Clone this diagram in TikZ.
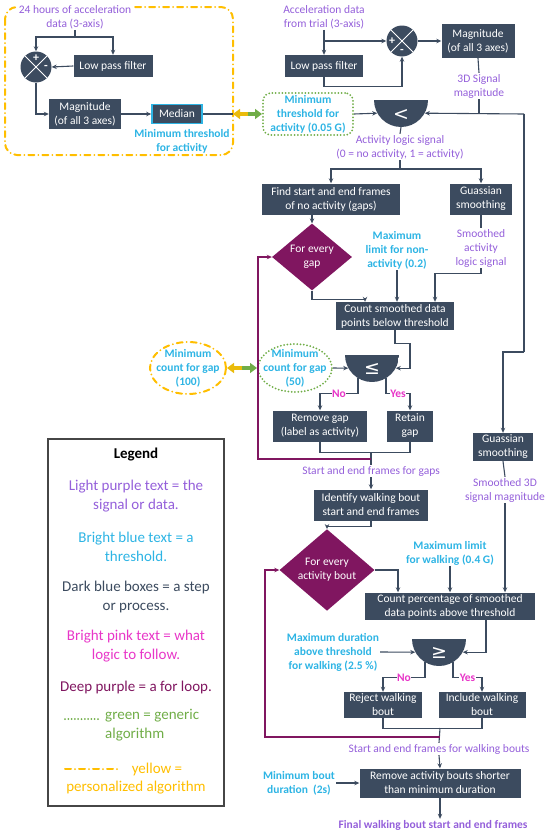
\documentclass[tikz,border=0pt]{standalone}
\usepackage{fontspec}
\setmainfont{Carlito}
\newfontfamily\symfont{DejaVu Sans}
\usetikzlibrary{arrows.meta,shapes.geometric}

\definecolor{stepblue}{RGB}{60,75,95}
\definecolor{looppurple}{RGB}{128,22,96}
\definecolor{datapurple}{RGB}{148,95,218}
\definecolor{thrblue}{RGB}{45,180,228}
\definecolor{logicpink}{RGB}{232,54,200}
\definecolor{gengreen}{RGB}{112,173,71}
\definecolor{persyellow}{RGB}{255,190,0}
\definecolor{legendgray}{RGB}{70,70,70}

\tikzset{
    stepbox/.style={fill=stepblue, text=white, align=center, inner sep=1pt},
    datatxt/.style={text=datapurple, align=center, inner sep=1pt},
    thrtxt/.style={text=thrblue, align=center, inner sep=1pt, font=\fontsize{11.5}{14}\selectfont\bfseries},
    logictxt/.style={text=logicpink, fill=white, inner sep=0.5pt, font=\fontsize{11.5}{14}\selectfont\bfseries},
    loopbox/.style={diamond, fill=looppurple, text=white, align=center, inner sep=0pt},
    cmp/.style={circle, minimum size=54pt, inner sep=0pt,
        path picture={\fill[stepblue] (path picture bounding box.west) rectangle (path picture bounding box.south east);}},
    cmpsym/.style={text=white, inner sep=0pt, font=\symfont\fontsize{19}{19}\selectfont},
    sumjn/.style={circle, fill=stepblue, minimum size=31pt, inner sep=0pt,
        path picture={\draw[white, line width=0.8pt]
            (path picture bounding box.north west) -- (path picture bounding box.south east)
            (path picture bounding box.south west) -- (path picture bounding box.north east);}},
    sumsign/.style={text=white, inner sep=0pt, font=\fontsize{12}{12}\selectfont\bfseries},
    wire/.style={draw=stepblue, line width=1.1pt},
    arr/.style={wire, -{Stealth[length=5pt,width=4.5pt]}},
    looparr/.style={draw=looppurple, line width=1.1pt, -{Stealth[length=5pt,width=4.5pt]}},
    generic/.style={draw=gengreen, line width=2pt, dash pattern=on 0pt off 3.3pt, line cap=round},
    personal/.style={draw=persyellow, line width=2pt, dash pattern=on 6pt off 4pt on 0pt off 4pt, line cap=round},
    halfyellow/.style={draw=persyellow!85!gengreen, line width=3.5pt, -{Triangle[length=7pt,width=10pt]}},
    halfgreen/.style={draw=gengreen, line width=3.5pt, -{Triangle[length=7pt,width=10pt]}},
    legendtxt/.style={align=center, inner sep=1pt, font=\fontsize{15}{19}\selectfont},
}

\begin{document}
\begin{tikzpicture}[x=1pt, y=-1pt, font=\fontsize{11.5}{14}\selectfont]
    \useasboundingbox (0,0) rectangle (550,835);

    \draw[personal, rounded corners=12pt] (5,7) rectangle (233,155);
    \node[datatxt, fill=white] (dataL) at (75,17) {24 hours of acceleration\\data (3-axis)};
    \coordinate (splitL) at (75,37);
    \node[sumjn] (sumL) at (36,67) {};
    \node[sumsign] (sumLp) at (36,58) {+};
    \node[sumsign] (sumLm) at (46,67) {-};
    \node[stepbox, minimum width=79, minimum height=22] (lpfL) at (113,66) {Low pass filter};
    \node[stepbox, minimum width=72, minimum height=30] (magL) at (85,114) {Magnitude\\(of all 3 axes)};
    \node[stepbox, draw=thrblue, line width=1.6pt, minimum width=50, minimum height=19] (medL) at (177,114) {Median};
    \node[thrtxt] (thrL) at (182,141) {Minimum threshold\\for activity};
    \coordinate (dblL) at (233,114);
    \coordinate (dblM) at (248,114);

    \draw[wire] (dataL.south) -- (splitL);
    \draw[arr] (splitL) -| (sumL.north);
    \draw[arr] (splitL) -| (lpfL.north);
    \draw[arr] (lpfL.west) -- (sumL.east);
    \draw[arr] (sumL.south) |- (magL.west);
    \draw[arr] (magL.east) -- (medL.west);
    \draw[wire] (medL.east) -- (dblL);

    \node[datatxt] (dataR) at (324,17) {Acceleration data\\from trial (3-axis)};
    \coordinate (splitR) at (324,41);
    \node[stepbox, minimum width=78, minimum height=22] (lpfR) at (324,66) {Low pass filter};
    \node[sumjn] (sumR) at (402,41) {};
    \node[sumsign] (sumRp) at (392,41) {+};
    \node[sumsign] (sumRm) at (402,51) {-};
    \node[stepbox, minimum width=73, minimum height=34] (magR) at (478,41) {Magnitude\\(of all 3 axes)};
    \node[datatxt] (sig3D) at (479,86) {3D Signal\\magnitude};
    \coordinate (jR) at (479,114);
    \coordinate (cornerR) at (524,114);
    \coordinate (bendR) at (524,352);

    \node[generic, thrtxt, rounded corners=8pt, minimum width=90, minimum height=42] (thrA) at (308,114) {Minimum\\threshold for\\activity (0.05 G)};
    \node[cmp] (cmpA) at (401,100) {};
    \node[cmpsym] (cmpAs) at (401,115) {<};
    \node[datatxt] (actSig) at (400,147) {Activity logic signal\\(0 = no activity, 1 = activity)};
    \coordinate (jA) at (400,169);

    \draw[halfyellow] (dblM) -- (dblL);
    \draw[halfgreen] (dblM) -- (thrA.west);
    \draw[wire] (dataR.south) -- (splitR);
    \draw[arr] (splitR) -- (lpfR.north);
    \draw[arr] (splitR) -- (sumR.west);
    \draw[arr] (lpfR.south) -- ++(0,9) -| (sumR.south);
    \draw[arr] (sumR.east) -- (magR.west);
    \draw[wire] (magR.south) -- (sig3D.north);
    \draw[wire] (sig3D.south) -- (jR);
    \draw[arr] (cornerR) -- (cmpA.-29);
    \draw[arr] (thrA.east) -- (cmpA.-151);
    \draw[wire] (cmpA.south) -- (actSig.north);
    \draw[wire] (actSig.south) -- (jA);

    \node[stepbox, minimum width=138, minimum height=31] (findG) at (331,199) {Find start and end frames\\of no activity (gaps)};
    \node[stepbox, minimum width=62, minimum height=31] (gauss1) at (481,199) {Guassian\\smoothing};
    \node[loopbox, minimum width=80, minimum height=51] (loopG) at (312,257) {For every\\gap};
    \node[thrtxt] (maxNon) at (397,250) {Maximum\\limit for non-\\activity (0.2)};
    \node[datatxt] (smAct) at (481,248) {Smoothed\\activity\\logic signal};
    \node[stepbox, minimum width=118, minimum height=28] (countG) at (395,316) {Count smoothed data\\points below threshold};

    \draw[arr] (jA) -| (findG.north);
    \draw[arr] (jA) -| (gauss1.north);
    \draw[arr] (loopG.north |- findG.south) -- (loopG.north);
    \draw[wire] (gauss1.south) -- (smAct.north);
    \draw[arr] (smAct.south) -- ++(0,5) -| ([xshift=40pt]countG.north);
    \draw[arr] (maxNon.south) -- (maxNon.south |- countG.north);
    \draw[arr] (loopG.south) -- ++(0,9) -| ([xshift=-30pt]countG.north);

    \node[cmp] (cmpG) at (372,355) {};
    \node[cmpsym] (cmpGs) at (372,369) {≤};
    \node[generic, ellipse, thrtxt, inner xsep=-6pt, inner ysep=-3pt, minimum width=74, minimum height=48] (cntGap) at (295,368) {Minimum\\count for gap\\(50)};
    \node[personal, ellipse, thrtxt, inner xsep=-6pt, inner ysep=-3pt, minimum width=76, minimum height=52] (cntGapP) at (188,368) {Minimum\\count for gap\\(100)};
    \coordinate (dblG) at (242,368);
    \node[stepbox, minimum width=94, minimum height=31] (remG) at (320,426) {Remove gap\\(label as activity)};
    \node[stepbox, minimum width=46, minimum height=31] (retG) at (410,426) {Retain\\gap};
    \coordinate (jG) at (371,453);
    \coordinate (backG) at (258,459);
    \node[datatxt] (gapTxt) at (371,471) {Start and end frames for gaps};

    \draw[arr] (countG.south) -- ++(0,13) -- ++(15,0) |- (cmpG.-29);
    \draw[arr] (cntGap.east) -- (cmpG.-151);
    \draw[halfyellow] (dblG) -- (cntGapP.east);
    \draw[halfgreen] (dblG) -- (cntGap.west);
    \draw[arr] (cmpG.-121) -- ++(0,15) -| (remG.north) node[logictxt, pos=0.25] (noG) {No};
    \draw[arr] (cmpG.-59) -- ++(0,15) -| (retG.north) node[logictxt, pos=0.25] (yesG) {Yes};
    \draw[wire] (remG.south) -- ++(0,11) -| (retG.south);
    \draw[wire] (jG) -- (gapTxt.north);
    \draw[looparr] (jG |- backG) -- (backG) |- (loopG.west);

    \node[stepbox, minimum width=114, minimum height=31] (identW) at (371,505) {Identify walking bout\\start and end frames};
    \node[loopbox, minimum width=95, minimum height=66] (loopW) at (327,570) {For every\\activity bout};
    \node[thrtxt] (maxWalk) at (450,553) {Maximum limit\\for walking (0.4 G)};
    \node[stepbox, minimum width=60, minimum height=28] (gauss2) at (503,447) {Guassian\\smoothing};
    \node[datatxt] (sm3D) at (505,490) {Smoothed 3D\\signal magnitude};
    \node[stepbox, minimum width=170, minimum height=27] (countW) at (450,606) {Count percentage of smoothed\\data points above threshold};

    \draw[arr] (bendR) -| (gauss2.north);
    \draw[wire] (cornerR) -- (bendR);
    \draw[arr] (gapTxt.south) -- (identW.north);
    \draw[arr] (identW.south) -- ++(0,6) -| (loopW.north);
    \draw[arr] (loopW.east) -| ([xshift=-52pt]countW.north);
    \draw[arr] (maxWalk.south) -- (countW.north);
    \draw[wire] (gauss2.south) -- (sm3D.north);
    \draw[arr] (sm3D.south) -- (sm3D.south |- countW.north);

    \node[cmp] (cmpW) at (439,639) {};
    \node[cmpsym] (cmpWs) at (439,653) {≥};
    \node[thrtxt] (maxDur) at (333,652) {Maximum duration\\above threshold\\for walking (2.5 \%)};
    \node[stepbox, minimum width=78, minimum height=26] (rejW) at (383,705) {Reject walking\\bout};
    \node[stepbox, minimum width=87, minimum height=26] (incW) at (482,705) {Include walking\\bout};
    \coordinate (jW) at (440,728);
    \coordinate (backW) at (265,737);
    \node[datatxt] (walkTxt) at (439,749) {Start and end frames for walking bouts};
    \node[stepbox, minimum width=161, minimum height=29] (remAct) at (440,783) {Remove activity bouts shorter\\than minimum duration};
    \node[thrtxt] (minBout) at (299,783) {Minimum bout\\duration~~(2s)};
    \node[datatxt, font=\fontsize{11.5}{14}\selectfont\bfseries] (finalTxt) at (433,825) {Final walking bout start and end frames};

    \draw[arr] ([xshift=36pt]countW.south) |- (cmpW.-29);
    \draw[arr] (maxDur.east) -- (cmpW.-151);
    \draw[arr] (cmpW.-121) -- ++(0,15) -| (rejW.north) node[logictxt, pos=0.25] (noW) {No};
    \draw[arr] (cmpW.-59) -- ++(0,15) -| (incW.north) node[logictxt, pos=0.25] (yesW) {Yes};
    \draw[wire] (rejW.south) -- ++(0,10) -| (incW.south);
    \draw[wire] (jW) -- (walkTxt.north);
    \draw[looparr] (jW |- backW) -- (backW) |- (loopW.west);
    \draw[arr] (walkTxt.south) -- (remAct.north);
    \draw[arr] (minBout.east) -- (remAct.west);
    \draw[arr] (remAct.south) -- (remAct.south |- finalTxt.north);

    \node[draw=legendgray, line width=1.2pt, minimum width=176, minimum height=367] (legend) at (136,622.5) {};
    \node[legendtxt, font=\fontsize{15}{19}\selectfont\bfseries] (lgTitle) at (136,455) {Legend};
    \node[legendtxt, text=datapurple] (lgData) at (136,496.5) {Light purple text = the\\signal or data.};
    \node[legendtxt, text=thrblue] (lgThr) at (136,546.5) {Bright blue text = a\\threshold.};
    \node[legendtxt, text=stepblue] (lgStep) at (136,596.5) {Dark blue boxes = a step\\or process.};
    \node[legendtxt, text=logicpink] (lgLogic) at (136,646.5) {Bright pink text = what\\logic to follow.};
    \node[legendtxt, text=looppurple] (lgLoop) at (136,687) {Deep purple = a for loop.};
    \node[legendtxt, text=gengreen, align=left, anchor=north west] (lgGen) at (104,708) {green = generic\\algorithm};
    \draw[generic] (65,719) -- (99,719);
    \node[legendtxt, text=persyellow] (lgPersA) at (157,769) {yellow =};
    \node[legendtxt, text=persyellow] (lgPersB) at (136,788) {personalized algorithm};
    \draw[personal] (65,769) -- (120,769);
\end{tikzpicture}
\end{document}
